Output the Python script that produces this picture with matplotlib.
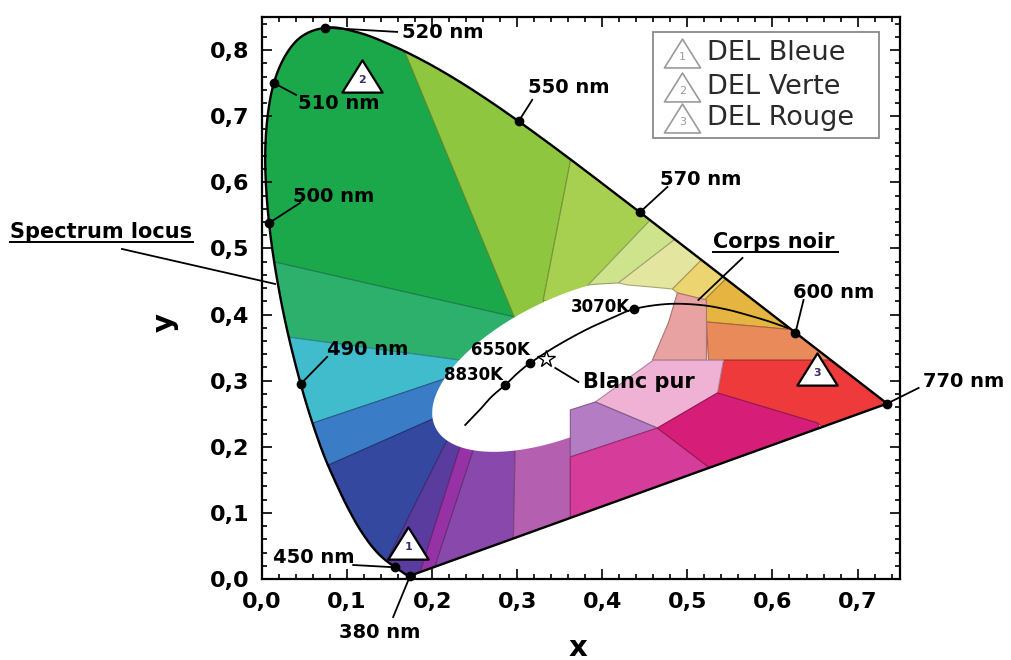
import numpy as np
import matplotlib
matplotlib.use("Agg")
import matplotlib.pyplot as plt
from matplotlib.patches import Polygon, Rectangle
from matplotlib.path import Path
from matplotlib.ticker import MultipleLocator, FuncFormatter
from matplotlib.colors import to_rgb

# ---- CIE 1931 spectrum locus (2 deg observer) ----
wavelength_nm = [380, 385, 390, 395, 400, 405, 410, 415, 420, 425, 430, 435, 440, 445,
                 450, 455, 460, 465, 470, 475, 480, 485, 490, 495, 500, 505, 510, 515,
                 520, 525, 530, 535, 540, 545, 550, 555, 560, 565, 570, 575, 580, 585,
                 590, 595, 600, 605, 610, 615, 620, 625, 630, 635, 640, 645, 650, 655,
                 660, 665, 670, 675, 680, 690, 770]
locus_x = [0.1741, 0.1740, 0.1738, 0.1736, 0.1733, 0.1730, 0.1726, 0.1721, 0.1714, 0.1703,
           0.1689, 0.1669, 0.1644, 0.1611, 0.1566, 0.1510, 0.1440, 0.1355, 0.1241, 0.1096,
           0.0913, 0.0687, 0.0454, 0.0235, 0.0082, 0.0039, 0.0139, 0.0389, 0.0743, 0.1142,
           0.1547, 0.1929, 0.2296, 0.2658, 0.3016, 0.3373, 0.3731, 0.4087, 0.4441, 0.4788,
           0.5125, 0.5448, 0.5752, 0.6029, 0.6270, 0.6482, 0.6658, 0.6801, 0.6915, 0.7006,
           0.7079, 0.7140, 0.7190, 0.7230, 0.7260, 0.7283, 0.7300, 0.7311, 0.7320, 0.7327,
           0.7334, 0.7344, 0.7347]
locus_y = [0.0050, 0.0050, 0.0049, 0.0049, 0.0048, 0.0048, 0.0048, 0.0048, 0.0051, 0.0058,
           0.0069, 0.0086, 0.0109, 0.0138, 0.0177, 0.0227, 0.0297, 0.0399, 0.0578, 0.0868,
           0.1327, 0.2007, 0.2950, 0.4127, 0.5384, 0.6548, 0.7502, 0.8120, 0.8338, 0.8262,
           0.8059, 0.7816, 0.7543, 0.7243, 0.6923, 0.6589, 0.6245, 0.5896, 0.5547, 0.5202,
           0.4866, 0.4544, 0.4242, 0.3965, 0.3725, 0.3514, 0.3340, 0.3197, 0.3083, 0.2993,
           0.2920, 0.2859, 0.2809, 0.2770, 0.2740, 0.2717, 0.2700, 0.2689, 0.2680, 0.2673,
           0.2666, 0.2656, 0.2653]

marked_nm = [380, 450, 490, 500, 510, 520, 550, 570, 600, 770]

# ---- black-body (Planckian) locus ----
planck_x = [0.2388, 0.2560, 0.2700, 0.2859, 0.3000, 0.3153, 0.3450, 0.3805, 0.4100,
            0.4376, 0.4770, 0.5150, 0.5450, 0.5706, 0.5950, 0.6176]
planck_y = [0.2330, 0.2560, 0.2760, 0.2935, 0.3110, 0.3268, 0.3516, 0.3768, 0.3940,
            0.4085, 0.4160, 0.4145, 0.4080, 0.3994, 0.3900, 0.3797]
cct_labels = ["3070K", "6550K", "8830K"]
cct_x = [0.4376, 0.3153, 0.2859]
cct_y = [0.4085, 0.3268, 0.2935]

white_point_x = 1 / 3
white_point_y = 1 / 3

# ---- LED chromaticities ----
led_names = ["DEL Bleue", "DEL Verte", "DEL Rouge"]
led_numbers = ["1", "2", "3"]
led_x = [0.1718, 0.1176, 0.6529]
led_y = [0.0552, 0.7610, 0.3177]

# ---- central white zone (ellipse: centre and two conjugate semi-axes) ----
white_center = (0.3635, 0.3253)
white_axis_a = (0.1635, 0.0741)
white_axis_b = (0.0, -0.1104)

# ---- colour zones (chromaticity vertices, clipped to the spectrum locus) ----
dark_green_xy = [(-0.038, 0.495), (-0.038, 0.906), (0.133, 0.906), (0.2965, 0.3964)]
medium_green_xy = [(-0.038, 0.495), (0.2965, 0.3964), (0.327, 0.331), (0.233, 0.331), (-0.022, 0.375)]
teal_xy = [(-0.022, 0.375), (0.233, 0.331), (0.327, 0.331), (0.2176, 0.3041), (0.013, 0.2157)]
mid_blue_xy = [(0.013, 0.2157), (0.2176, 0.3041), (0.327, 0.331), (0.2059, 0.2451), (0.0306, 0.1454)]
dark_blue_xy = [(0.0306, 0.1454), (0.2059, 0.2451), (0.327, 0.331), (0.2235, 0.2254), (0.1259, -0.0257)]
indigo_xy = [(0.1259, -0.0257), (0.2235, 0.2254), (0.2353, 0.2103), (0.1765, -0.0272)]
violet_xy = [(0.1765, -0.0272), (0.2353, 0.2103), (0.2506, 0.2042), (0.1918, -0.0257)]
purple_xy = [(0.1918, -0.0257), (0.2506, 0.2042), (0.2976, 0.2042), (0.2941, -0.0318)]
orchid_xy = [(0.2941, -0.0318), (0.2976, 0.2042), (0.3624, 0.2254), (0.3624, -0.0318)]
yellow_green_xy = [(0.133, 0.906), (0.2965, 0.3964), (0.3365, 0.3888), (0.3306, 0.4221), (0.3776, 0.7322)]
light_yg_xy = [(0.3776, 0.7322), (0.3306, 0.4221), (0.3565, 0.4070), (0.3835, 0.4448), (0.4824, 0.5779)]

pale_yg_xy = [(0.4824, 0.5779), (0.3835, 0.4448), (0.3976, 0.4463), (0.4188, 0.4478), (0.5165, 0.5446)]
pale_yellow_xy = [(0.5165, 0.5446), (0.4188, 0.4478), (0.4294, 0.4448), (0.4565, 0.4418),
                  (0.4824, 0.4387), (0.54, 0.5129)]
yellow_xy = [(0.54, 0.5129), (0.4824, 0.4387), (0.4882, 0.4327), (0.52, 0.4221), (0.5753, 0.4917)]
orange_yellow_xy = [(0.5753, 0.4917), (0.52, 0.4221), (0.5224, 0.3888), (0.68, 0.3707), (0.6918, 0.4221)]
orange_xy = [(0.5224, 0.3888), (0.68, 0.3707), (0.6918, 0.331), (0.5247, 0.331)]
salmon_xy = [(0.4882, 0.4327), (0.5224, 0.4221), (0.5224, 0.331), (0.4588, 0.331), (0.4776, 0.3873)]
red_xy = [(0.5353, 0.2814), (0.5424, 0.331), (0.6918, 0.331), (0.7741, 0.2708), (0.74, 0.15), (0.6529, 0.236)]
light_pink_xy = [(0.3918, 0.2678), (0.46, 0.331), (0.5424, 0.331), (0.5353, 0.2814), (0.4647, 0.2284)]
lavender_xy = [(0.3624, 0.1846), (0.3624, 0.2557), (0.3918, 0.2678), (0.4647, 0.2284)]
pink_magenta_xy = [(0.3624, -0.062), (0.3624, 0.1846), (0.4647, 0.2284), (0.5294, 0.1649),
                   (0.5506, 0.1271), (0.40, -0.062)]
magenta_red_xy = [(0.4647, 0.2284), (0.5353, 0.2814), (0.6529, 0.236), (0.68, 0.16),
                  (0.5506, 0.1271), (0.5294, 0.1649)]

zones_below_white = [
    (dark_green_xy, "#1ba84b"), (medium_green_xy, "#2cb06c"), (teal_xy, "#40bccc"),
    (mid_blue_xy, "#3a7cc6"), (dark_blue_xy, "#3448a0"), (indigo_xy, "#5a3c9e"),
    (violet_xy, "#9632a5"), (purple_xy, "#8848ac"), (orchid_xy, "#b45fb0"),
    (yellow_green_xy, "#8ec640"), (light_yg_xy, "#a8d050"),
]
zones_above_white = [
    (pale_yg_xy, "#cee48c"), (pale_yellow_xy, "#e4e6a0"), (yellow_xy, "#ecd470"),
    (orange_yellow_xy, "#e6b440"), (orange_xy, "#e98a5a"), (salmon_xy, "#e8a2a2"),
    (red_xy, "#ef3a3c"), (light_pink_xy, "#f0b2d4"), (lavender_xy, "#b47cc2"),
    (pink_magenta_xy, "#d63c9a"), (magenta_red_xy, "#d61e78"),
]


def catmull_rom(xs, ys, steps=12):
    """Smooth curve through the given points (drawing only)."""
    p = np.column_stack([xs, ys])
    p = np.vstack([p[0], p, p[-1]])
    out = []
    s = np.linspace(0, 1, steps, endpoint=False)[:, None]
    for i in range(1, len(p) - 2):
        p0, p1, p2, p3 = p[i - 1], p[i], p[i + 1], p[i + 2]
        seg = 0.5 * ((2 * p1) + (-p0 + p2) * s + (2 * p0 - 5 * p1 + 4 * p2 - p3) * s ** 2
                     + (-p0 + 3 * p1 - 3 * p2 + p3) * s ** 3)
        out.append(seg)
    out.append(p[-2][None, :])
    return np.vstack(out)


# ---------------------------------------------------------------------------
fig = plt.figure(figsize=(10.11, 6.6), dpi=100)
ax = fig.add_axes([0.2592, 0.1227, 0.6311, 0.8515])
ax.set_xlim(0, 0.75)
ax.set_ylim(0, 0.85)

locus_curve = catmull_rom(locus_x, locus_y)
locus_patch = Polygon(locus_curve, closed=True, facecolor="none", edgecolor="none")
ax.add_patch(locus_patch)


def darker(color, f=0.72):
    return tuple(v * f for v in to_rgb(color))


def add_zone(verts, color, z):
    p = Polygon(verts, closed=True, facecolor=color, edgecolor=darker(color),
                lw=0.8, zorder=z)
    ax.add_patch(p)
    p.set_clip_path(locus_patch)


for verts, color in zones_below_white:
    add_zone(verts, color, 1)

t = np.linspace(0, 2 * np.pi, 240)
ell_x = white_center[0] + white_axis_a[0] * np.cos(t) + white_axis_b[0] * np.sin(t)
ell_y = white_center[1] + white_axis_a[1] * np.cos(t) + white_axis_b[1] * np.sin(t)
ax.add_patch(Polygon(np.column_stack([ell_x, ell_y]), closed=True,
                     facecolor="white", edgecolor="none", zorder=2))

for verts, color in zones_above_white:
    add_zone(verts, color, 3)

# spectrum locus outline and purple line
closed = np.vstack([locus_curve, locus_curve[:1]])
ax.plot(closed[:, 0], closed[:, 1], color="black", lw=1.7, zorder=5)

# black-body curve
planck_curve = catmull_rom(planck_x, planck_y)
ax.plot(planck_curve[:, 0], planck_curve[:, 1], color="black", lw=1.3, zorder=6)
ax.plot(cct_x, cct_y, "o", color="black", ms=6, zorder=7)
ax.plot([white_point_x], [white_point_y], marker="*", ms=13, mfc="white", mec="black",
        mew=1.0, zorder=7)

# marked wavelengths on the locus
mk_x = [locus_x[wavelength_nm.index(w)] for w in marked_nm]
mk_y = [locus_y[wavelength_nm.index(w)] for w in marked_nm]
ax.plot(mk_x, mk_y, "o", color="black", ms=6, zorder=7, clip_on=False)

bold = dict(fontweight="bold", color="black", clip_on=False, zorder=9)

# wavelength labels: (nm, text position, pointer end)
wl_labels = {
    520: ((0.1647, 0.826), (0.1588, 0.8275)),
    510: ((0.0424, 0.7186), (0.0400, 0.7322)),
    550: ((0.3129, 0.7428), (0.3176, 0.7247)),
    500: ((0.0365, 0.5779), (0.0447, 0.5688)),
    570: ((0.4682, 0.6036), (0.4765, 0.5930)),
    600: ((0.6247, 0.4327), (0.6365, 0.4221)),
    770: ((0.7765, 0.2980), (0.7718, 0.2890)),
    490: ((0.0765, 0.3464), (0.0765, 0.3359)),
    450: ((0.0129, 0.0318), (0.1071, 0.0212)),
}
for nm, (txt, end) in wl_labels.items():
    i = wavelength_nm.index(nm)
    ax.plot([locus_x[i], end[0]], [locus_y[i], end[1]], color="black", lw=1.3,
            zorder=6, clip_on=False)
    ax.text(txt[0], txt[1], f"{nm} nm", ha="left", va="center", fontsize=14, **bold)

i380 = wavelength_nm.index(380)
ax.plot([locus_x[i380], 0.1541], [locus_y[i380], -0.0575], color="black", lw=1.3,
        zorder=6, clip_on=False)
ax.text(0.1388, -0.0802, "380 nm", ha="center", va="center", fontsize=14, **bold)

# annotations
ax.text(-0.2965, 0.525, "Spectrum locus", ha="left", va="center", fontsize=15, **bold)
ax.plot([-0.2965, -0.0812], [0.5098, 0.5098], color="black", lw=1.4, clip_on=False)
ax.plot([-0.1647, 0.0153], [0.4992, 0.4463], color="black", lw=1.3, clip_on=False, zorder=6)

ax.text(0.5306, 0.5098, "Corps noir", ha="left", va="center", fontsize=15, **bold)
ax.plot([0.5306, 0.6765], [0.4947, 0.4947], color="black", lw=1.4, zorder=9)
ax.plot([0.5647, 0.5129], [0.4856, 0.4221], color="black", lw=1.3, zorder=6)

cct_text_pos = [(0.4329, 0.4115), (0.3153, 0.3464), (0.2835, 0.3086)]
for lab, (tx, ty) in zip(cct_labels, cct_text_pos):
    ax.text(tx, ty, lab, ha="right", va="center", fontsize=12, **bold)

ax.plot([0.3447, 0.3718], [0.3192, 0.2980], color="black", lw=1.3, zorder=6)
ax.text(0.3776, 0.2980, "Blanc pur", ha="left", va="center", fontsize=15, **bold)

# LED triangles
tri = Path([(-1, -0.8), (1, -0.8), (0, 0.8), (-1, -0.8)],
           [Path.MOVETO, Path.LINETO, Path.LINETO, Path.CLOSEPOLY])
ax.plot(led_x, led_y, linestyle="none", marker=tri, ms=29, mfc="white", mec="black",
        mew=1.6, zorder=8)
for n, x, y in zip(led_numbers, led_x, led_y):
    ax.annotate(n, (x, y), xytext=(0, -3), textcoords="offset points", ha="center",
                va="center", fontsize=8, fontweight="bold", color="#3b2d6b", zorder=9)

# legend box
ax.add_patch(Rectangle((0.46, 0.6672), 0.2647, 0.1603, facecolor="white",
                       edgecolor="#8a8a8a", lw=1.3, zorder=9))
leg_y = [0.7958, 0.7443, 0.6974]
for name, n, y in zip(led_names, led_numbers, leg_y):
    ax.plot([0.4941], [y], linestyle="none", marker=tri, ms=26, mfc="white",
            mec="#9a9a9a", mew=1.2, zorder=10)
    ax.annotate(n, (0.4941, y), xytext=(0, -3), textcoords="offset points", ha="center",
                va="center", fontsize=8, color="#9a9a9a", zorder=10)
    ax.text(0.5235, y, name, ha="left", va="center", fontsize=19.5, color="#2a2a2a",
            zorder=10)

# axes styling
for s in ax.spines.values():
    s.set_linewidth(1.6)
    s.set_zorder(10)
ax.xaxis.set_major_locator(MultipleLocator(0.1))
ax.xaxis.set_minor_locator(MultipleLocator(0.02))
ax.yaxis.set_major_locator(MultipleLocator(0.1))
ax.yaxis.set_minor_locator(MultipleLocator(0.02))
comma = FuncFormatter(lambda v, p: f"{v:.1f}".replace(".", ","))
ax.xaxis.set_major_formatter(comma)
ax.yaxis.set_major_formatter(comma)
ax.tick_params(which="both", direction="in", top=True, right=True, width=1.2)
ax.tick_params(which="major", length=7, labelsize=16, pad=9)
ax.tick_params(which="minor", length=3.5)
for lab in ax.get_xticklabels() + ax.get_yticklabels():
    lab.set_fontweight("bold")

ax.text(0.495, -0.122, "x", transform=ax.transAxes, ha="center", va="center",
        fontsize=21, fontweight="bold")
ax.text(-0.152, 0.457, "y", transform=ax.transAxes, ha="center", va="center",
        fontsize=21, fontweight="bold", rotation=90)

fig.savefig("out.png", dpi=100)
